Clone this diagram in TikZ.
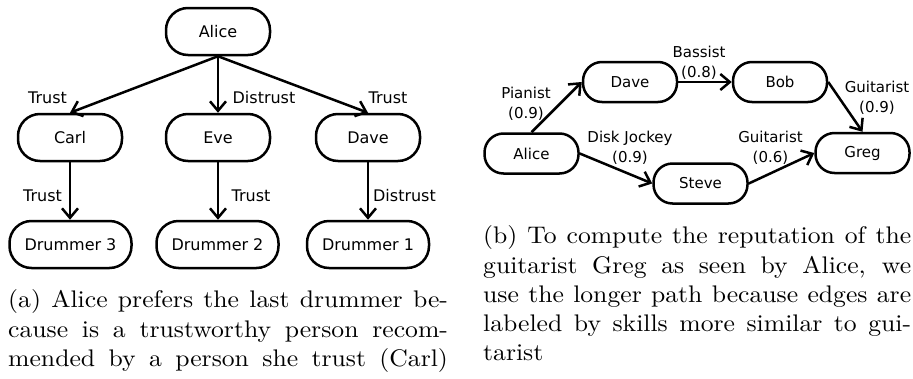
\documentclass[tikz,border=0pt]{standalone}
\usepackage{fontspec}
\usepackage{graphicx}
\newfontfamily\dvs{DejaVu Sans}
\newfontfamily\capfont{lmroman10-regular}[Extension=.otf]
\usetikzlibrary{arrows.meta}
\tikzset{
  box/.style={draw, line width=2.5pt, rounded corners=22pt, inner sep=0pt, font=\dvs\fontsize{16}{19}\selectfont},
  lbox/.style={box, minimum width=104pt, minimum height=47pt},
  dbox/.style={box, minimum width=122pt, minimum height=47pt},
  rbox/.style={box, rounded corners=19pt, minimum width=94pt, minimum height=40pt, font=\dvs\fontsize{15}{18}\selectfont},
  arr/.style={line width=2.5pt, -{Straight Barb[length=9.5pt,width=16pt,line width=2.5pt]}},
  lbl/.style={inner sep=0pt, font=\dvs\fontsize{16}{19}\selectfont},
  rlbl/.style={inner sep=0pt, align=center, font=\dvs\fontsize{15}{20}\selectfont},
  captext/.style={inner sep=0pt, anchor=base west, font=\capfont\fontsize{24}{29}\selectfont}
}
\newcommand\capline[2]{\scalebox{1.07}[1]{\makebox[#1][s]{#2}}}
\begin{document}
\begin{tikzpicture}[x=1pt,y=-1pt]
\useasboundingbox (0,0) rectangle (913,378);
% left diagram
\node[lbox] (alice) at (218,31.5) {Alice};
\node[lbox] (carl) at (70,137.5) {Carl};
\node[lbox] (eve) at (218,137.5) {Eve};
\node[lbox] (dave) at (368,137.5) {Dave};
\node[dbox] (d3) at (70.5,244.5) {Drummer 3};
\node[dbox] (d2) at (217.5,244.5) {Drummer 2};
\node[dbox] (d1) at (368,244.5) {Drummer 1};
\draw[arr] (alice.south) -- (carl.north);
\draw[arr] (alice.south) -- (eve.north);
\draw[arr] (alice.south) -- (dave.north);
\draw[arr] (carl.south) -- (carl.south |- d3.north);
\draw[arr] (eve.south) -- (eve.south |- d2.north);
\draw[arr] (dave.south) -- (dave.south |- d1.north);
\node[lbl] (l1) at (47.5,98) {Trust};
\node[lbl] (l2) at (264,98) {Distrust};
\node[lbl] (l3) at (388,98) {Trust};
\node[lbl] (l4) at (42.5,196) {Trust};
\node[lbl] (l5) at (251,196) {Trust};
\node[lbl] (l6) at (404.5,196) {Distrust};
% right diagram
\node[rbox] (ralice) at (531.5,153.5) {Alice};
\node[rbox] (rdave) at (630,82) {Dave};
\node[rbox] (rbob) at (780,82) {Bob};
\node[rbox] (rsteve) at (700.5,183.5) {Steve};
\node[rbox] (rgreg) at (862.5,153) {Greg};
\draw[arr] (ralice.north) -- (rdave.west);
\draw[arr] (rdave.east) -- (rbob.west);
\draw[arr] (rbob.east) -- (rgreg.north);
\draw[arr] (ralice.east) -- (rsteve.west);
\draw[arr] (rsteve.east) -- (rgreg.west);
\node[rlbl] (r1) at (699,63) {Bassist\\(0.8)};
\node[rlbl] (r2) at (526,104) {Pianist\\(0.9)};
\node[rlbl] (r3) at (877,98) {Guitarist\\(0.9)};
\node[rlbl] (r4) at (630,148) {Disk Jockey\\(0.9)};
\node[rlbl] (r5) at (770.5,148) {Guitarist\\(0.6)};
% captions
\node[captext] (ca1) at (8,307) {\capline{411pt}{(a) Alice prefers the last drummer be-}};
\node[captext] (ca2) at (8,337) {\capline{411pt}{cause is a trustworthy person recom-}};
\node[captext] (ca3) at (8,366) {\capline{411pt}{mended by a person she trust (Carl)}};
\node[captext] (cb1) at (483,243) {\capline{400pt}{(b) To compute the reputation of the}};
\node[captext] (cb2) at (483,273) {\capline{400pt}{guitarist Greg as seen by Alice, we}};
\node[captext] (cb3) at (483,302) {\capline{400pt}{use the longer path because edges are}};
\node[captext] (cb4) at (483,331) {\capline{400pt}{labeled by skills more similar to gui-}};
\node[captext] (cb5) at (483,360) {\scalebox{1.07}[1]{tarist}};
\end{tikzpicture}
\end{document}
